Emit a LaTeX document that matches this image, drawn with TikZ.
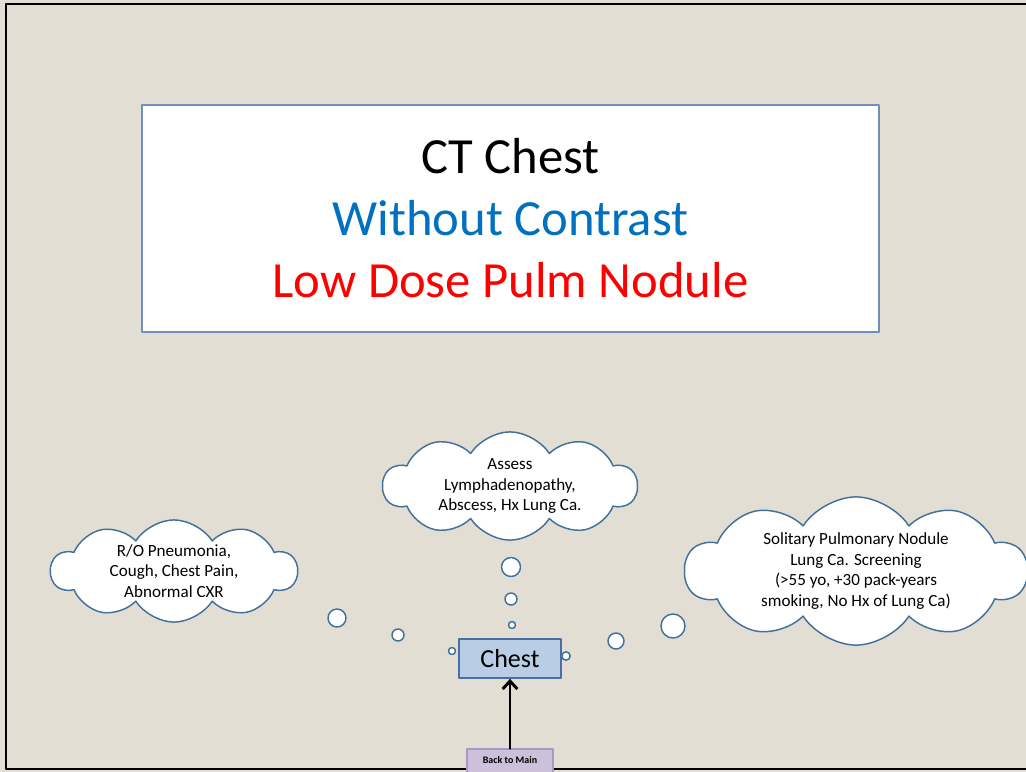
\documentclass[tikz,border=0pt]{standalone}
\usepackage{fontspec}
\setmainfont{Carlito}
\usetikzlibrary{shapes.symbols,arrows.meta,positioning}
\definecolor{slidebg}{RGB}{227,222,211}
\definecolor{cloudline}{RGB}{65,113,156}
\definecolor{titleline}{RGB}{112,142,190}
\definecolor{chestfill}{RGB}{185,205,229}
\definecolor{chestline}{RGB}{72,110,165}
\definecolor{backfill}{RGB}{204,192,218}
\definecolor{backline}{RGB}{168,152,196}
\definecolor{contrastblue}{RGB}{0,112,192}
\begin{document}
\begin{tikzpicture}[x=0.75pt, y=-0.75pt, line join=round, line cap=round,
	thought/.style={cloud, cloud puffs=10, cloud puff arc=115, cloud ignores aspect, draw=cloudline, fill=white, line width=1.1pt, align=center, inner sep=0pt, font=\fontsize{12.8}{15.4}\selectfont},
	bubble/.style={draw=cloudline, fill=white, line width=1.1pt}]
	\useasboundingbox (0,0) rectangle (1026,772);
	\fill[slidebg] (0,0) rectangle (1026,772);
	\draw[line width=1.6pt] (6,4) rectangle (1060,769);
	\node[draw=titleline, line width=1.5pt, fill=white, minimum width=737*0.75pt, minimum height=227*0.75pt, align=center, font=\fontsize{38}{46.5}\selectfont] (title) at (510.5,218.5) {CT Chest\\ \textcolor{contrastblue}{Without Contrast}\\ \textcolor{red}{Low Dose Pulm Nodule}};
	\node[thought, minimum width=246*0.75pt, minimum height=95*0.75pt] (pneumonia) at (174,571) {R/O Pneumonia,\\ Cough, Chest Pain,\\ Abnormal CXR};
	\node[thought, minimum width=254*0.75pt, minimum height=87*0.75pt] (lymph) at (510,486) {Assess\\ Lymphadenopathy,\\ Abscess, Hx Lung Ca.};
	\node[thought, minimum width=342*0.75pt, minimum height=114*0.75pt] (nodule) at (856,571) {Solitary Pulmonary Nodule\\ Lung Ca. Screening\\ (>55 yo, +30 pack-years\\ smoking, No Hx of Lung Ca)};
	\foreach \x/\y/\r in {337/618/9,398/635/6,452/651/3.5,511/567/9.5,511/599/6,512/625/3.5,673/626/12,616/641/8,566/656/4.2}
	\draw[bubble] (\x,\y) circle (\r*0.75pt);
	\node[draw=chestline, line width=1.3pt, fill=chestfill, minimum width=102*0.75pt, minimum height=39*0.75pt, font=\fontsize{19.5}{22}\selectfont] (chest) at (510,658.5) {Chest};
	\node[draw=backline, line width=0.8pt, fill=backfill, minimum width=86*0.75pt, minimum height=28*0.75pt, text depth=4pt, font=\bfseries\fontsize{7.5}{9}\selectfont] (back) at (510,763) {Back to Main};
	\draw[-{Straight Barb[length=6pt,width=11pt]}, line width=2.2pt] (back) -- (chest);
\end{tikzpicture}
\end{document}
